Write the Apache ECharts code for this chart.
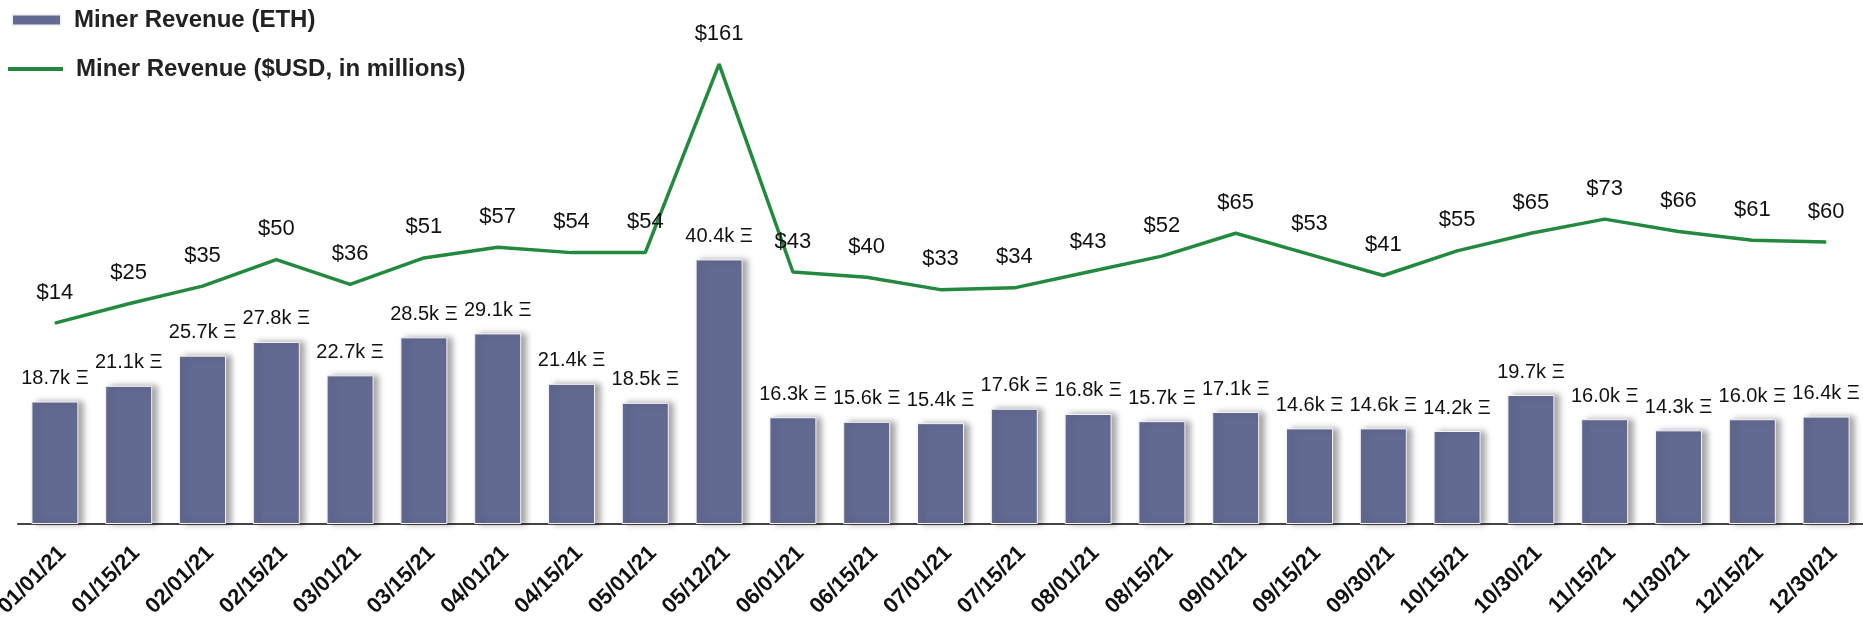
<!DOCTYPE html>
<html>
<head>
<meta charset="utf-8">
<script src="https://cdn.jsdelivr.net/npm/echarts@6/dist/echarts.min.js"></script>
<style>
html,body{margin:0;padding:0;background:#fff;}
#chart{width:1863px;height:621px;}
</style>
</head>
<body>
<div id="chart"></div>
<script>
const categories = ['01/01/21','01/15/21','02/01/21','02/15/21','03/01/21','03/15/21','04/01/21','04/15/21','05/01/21','05/12/21','06/01/21','06/15/21','07/01/21','07/15/21','08/01/21','08/15/21','09/01/21','09/15/21','09/30/21','10/15/21','10/30/21','11/15/21','11/30/21','12/15/21','12/30/21'];
const ethRevenueK = [18.7,21.1,25.7,27.8,22.7,28.5,29.1,21.4,18.5,40.4,16.3,15.6,15.4,17.6,16.8,15.7,17.1,14.6,14.6,14.2,19.7,16.0,14.3,16.0,16.4];
const usdRevenueM = [14,25,35,50,36,51,57,54,54,161,43,40,33,34,43,52,65,53,41,55,65,73,66,61,60];
const barName = 'Miner Revenue (ETH)';
const lineName = 'Miner Revenue ($USD, in millions)';

const chart = echarts.init(document.getElementById('chart'), null, {renderer:'canvas'});
const FONT = 'Liberation Sans, Arial, sans-serif';
const legendText = {fontFamily:FONT, fontWeight:'bold', fontSize:24, color:'#222', padding:[0,0,0,8]};
chart.setOption({
  animation:false,
  backgroundColor:'#fff',
  legend:[
    {data:[{name:barName, icon:'rect'}], left:11, top:8, padding:0, itemWidth:49, itemHeight:11, textStyle:legendText, selectedMode:false},
    {data:[{name:lineName, icon:'rect'}], left:8, top:57, padding:0, itemWidth:55, itemHeight:4, textStyle:legendText, selectedMode:false}
  ],
  grid:{left:18, right:0, top:39.4, bottom:97, containLabel:false, outerBoundsMode:'none'},
  xAxis:{
    type:'category', data:categories,
    axisLine:{show:true, lineStyle:{color:'#444', width:2}},
    axisTick:{show:false},
    axisLabel:{rotate:45, margin:18, interval:0, align:'right', verticalAlign:'top', fontFamily:FONT, fontWeight:'bold', fontSize:22, color:'#111'}
  },
  yAxis:[
    {type:'value', min:0, max:74, show:false, splitLine:{show:false}},
    {type:'value', min:-100, max:175, show:false, splitLine:{show:false}}
  ],
  series:[
    {
      name:barName, type:'bar', yAxisIndex:0, data:ethRevenueK, barWidth:47,
      itemStyle:{color:'#636a91', borderColor:'#f4f4f8', borderWidth:1, shadowColor:'rgba(0,0,0,0.35)', shadowBlur:6, shadowOffsetX:5, shadowOffsetY:0},
      label:{show:true, position:'top', distance:13, fontFamily:FONT, fontSize:20, color:'#111',
        formatter:p=>p.value.toFixed(1)+'k Ξ'}
    },
    {
      name:lineName, type:'line', yAxisIndex:1, data:usdRevenueM, symbol:'circle', symbolSize:1, showSymbol:true,
      lineStyle:{color:'#23893f', width:3.5}, itemStyle:{color:'#23893f'},
      labelLayout:{hideOverlap:false},
      label:{show:true, position:'top', distance:19, fontFamily:FONT, fontSize:22, color:'#111',
        formatter:p=>'$'+p.value}
    }
  ]
});
</script>
</body>
</html>
